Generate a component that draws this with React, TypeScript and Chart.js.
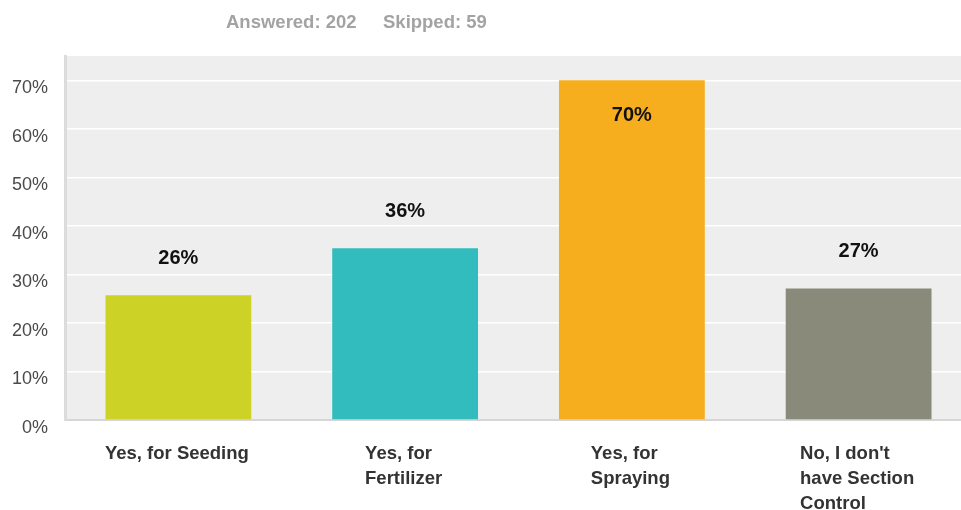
import React, { useEffect, useRef } from "react";
import { Chart, registerables } from "chart.js";

Chart.register(...registerables);

const categories: string[][] = [
  ["Yes, for Seeding"],
  ["Yes, for", "Fertilizer"],
  ["Yes, for", "Spraying"],
  ["No, I don't", "have Section", "Control"],
];
const values: number[] = [25.7, 35.4, 70.0, 27.1];
const valueLabels: string[] = ["26%", "36%", "70%", "27%"];
const barColors: string[] = ["#CDD227", "#32BCBE", "#F6AE1E", "#898A79"];
const answeredText = "Answered: 202";
const skippedText = "Skipped: 59";

const FONT = "Arial, 'Liberation Sans', Helvetica, sans-serif";

const bgPlugin = {
  id: "plotBg",
  beforeDraw(chart: any) {
    const { ctx, chartArea } = chart;
    ctx.save();
    ctx.fillStyle = "#eeeeee";
    ctx.fillRect(chartArea.left, chartArea.top, chartArea.right - chartArea.left, chartArea.bottom - chartArea.top);
    ctx.restore();
  },
};

const valueLabelPlugin = {
  id: "valueLabels",
  afterDatasetsDraw(chart: any) {
    const { ctx, chartArea } = chart;
    const meta = chart.getDatasetMeta(0);
    ctx.save();
    ctx.font = `bold 20px ${FONT}`;
    ctx.fillStyle = "#111111";
    ctx.textAlign = "center";
    ctx.textBaseline = "middle";
    meta.data.forEach((bar: any, i: number) => {
      let y = bar.y - 37;
      if (y < chartArea.top + 12) y = bar.y + 35;
      ctx.fillText(valueLabels[i], bar.x, y);
    });
    ctx.restore();
  },
};

const xLabelPlugin = {
  id: "xLabels",
  afterDraw(chart: any) {
    const { ctx } = chart;
    const xs = chart.scales.x;
    ctx.save();
    ctx.font = `bold 18.5px ${FONT}`;
    ctx.fillStyle = "#333333";
    ctx.textAlign = "left";
    ctx.textBaseline = "alphabetic";
    categories.forEach((lines, i) => {
      const cx = xs.getPixelForValue(i);
      const w = Math.max(...lines.map((l) => ctx.measureText(l).width));
      const left = cx - w / 2 - 1.5;
      lines.forEach((line, j) => {
        ctx.fillText(line, left, 459 + j * 25);
      });
    });
    ctx.restore();
  },
};

export default function App() {
  const ref = useRef<HTMLCanvasElement | null>(null);
  useEffect(() => {
    if (!ref.current) return;
    const chart = new Chart(ref.current, {
      type: "bar",
      data: {
        labels: categories.map((c) => c.join(" ")),
        datasets: [
          {
            data: values,
            backgroundColor: barColors,
            borderWidth: 0,
            barPercentage: 0.643,
            categoryPercentage: 1,
          },
        ],
      },
      options: {
        responsive: false,
        animation: false,
        devicePixelRatio: 1,
        layout: { padding: { top: 56, left: 0, right: 0, bottom: 0 } },
        plugins: {
          legend: { display: false },
          tooltip: { enabled: false },
          title: { display: false },
        },
        scales: {
          x: {
            grid: { display: false, drawTicks: false },
            border: { display: true, color: "#d6d6d6", width: 2 },
            ticks: { display: false },
            afterFit: (scale: any) => {
              scale.height = 90;
            },
          },
          y: {
            min: 0,
            max: 75,
            ticks: {
              stepSize: 10,
              padding: 17,
              labelOffset: 8,
              color: "#4a4a4a",
              font: { family: FONT, size: 18 },
              callback: (v: any) => `${v}%`,
            },
            afterBuildTicks: (scale: any) => {
              scale.ticks = scale.ticks.filter((t: any) => t.value % 10 === 0);
            },
            afterFit: (scale: any) => {
              scale.width = 65;
            },
            grid: {
              drawTicks: false,
              lineWidth: 1.5,
              color: (c: any) => (c.tick && c.tick.value === 0 ? "rgba(0,0,0,0)" : "#ffffff"),
            },
            border: { display: true, color: "#dcdcdc", width: 3 },
          },
        },
      },
      plugins: [bgPlugin, valueLabelPlugin, xLabelPlugin],
    } as any);
    return () => chart.destroy();
  }, []);

  const headerStyle: React.CSSProperties = {
    position: "absolute",
    top: 12.6,
    fontFamily: FONT,
    fontWeight: "bold",
    fontSize: "18.5px",
    lineHeight: "18.5px",
    color: "#a3a3a3",
    whiteSpace: "nowrap",
  };

  return (
    <div
      style={{
        position: "absolute",
        left: 0,
        top: 0,
        width: 961,
        height: 510,
        overflow: "hidden",
        background: "#ffffff",
      }}
    >
      <canvas ref={ref} width={972} height={510} style={{ display: "block", width: 972, height: 510 }} />
      <span style={{ ...headerStyle, left: 226 }}>{answeredText}</span>
      <span style={{ ...headerStyle, left: 383 }}>{skippedText}</span>
    </div>
  );
}
